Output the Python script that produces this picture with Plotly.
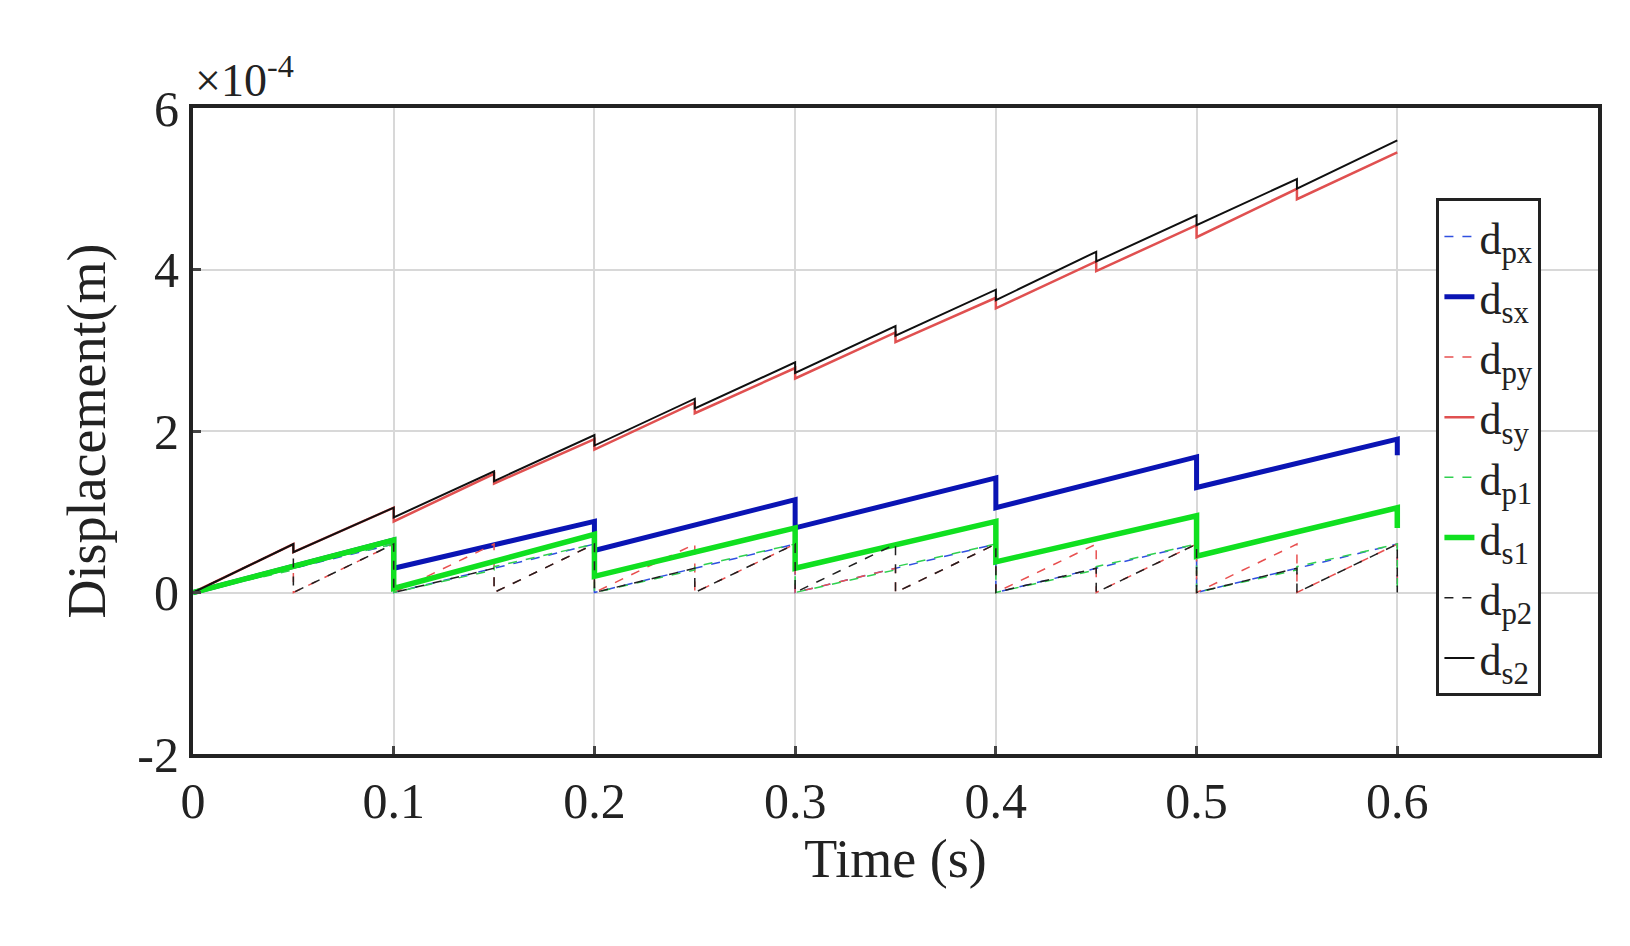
import plotly.graph_objects as go

# values in units of 1e-4 m
t_half = [0, 0.05, 0.05, 0.1, 0.1, 0.15, 0.15, 0.2, 0.2, 0.25, 0.25, 0.3, 0.3,
          0.35, 0.35, 0.4, 0.4, 0.45, 0.45, 0.5, 0.5, 0.55, 0.55, 0.6]
d_s2 = [0, 0.6, 0.5, 1.05, 0.93, 1.5, 1.38, 1.95, 1.82, 2.4, 2.28, 2.85, 2.72,
        3.3, 3.18, 3.75, 3.62, 4.22, 4.1, 4.67, 4.55, 5.12, 5.0, 5.6]
d_sy = [0, 0.6, 0.5, 1.05, 0.88, 1.47, 1.35, 1.9, 1.77, 2.35, 2.22, 2.78, 2.65,
        3.22, 3.1, 3.65, 3.52, 4.1, 3.98, 4.55, 4.4, 5.0, 4.87, 5.45]

t_full = [0, 0.1, 0.1, 0.2, 0.2, 0.3, 0.3, 0.4, 0.4, 0.5, 0.5, 0.6, 0.6]
d_sx = [0, 0.65, 0.3, 0.88, 0.52, 1.15, 0.8, 1.42, 1.05, 1.68, 1.3, 1.9, 1.7]
d_s1 = [0, 0.65, 0.05, 0.72, 0.2, 0.8, 0.3, 0.88, 0.38, 0.95, 0.45, 1.05, 0.8]

t_saw = [0, 0.05, 0.05, 0.1, 0.1, 0.15, 0.15, 0.2, 0.2, 0.25, 0.25, 0.3, 0.3,
         0.35, 0.35, 0.4, 0.4, 0.45, 0.45, 0.5, 0.5, 0.55, 0.55, 0.6, 0.6]
d_p2 = [0, 0.6, 0, 0.6, 0, 0.3, 0, 0.6, 0, 0.3, 0, 0.6, 0,
        0.6, 0, 0.6, 0, 0.3, 0, 0.6, 0, 0.3, 0, 0.6, 0]
d_py = [0, 0.3, 0, 0.6, 0, 0.6, 0, 0.6, 0, 0.6, 0, 0.6, 0,
        0.3, 0, 0.6, 0, 0.6, 0, 0.6, 0, 0.6, 0, 0.6, 0]
d_px = [0, 0.3, 0.3, 0.6, 0, 0.3, 0.3, 0.6, 0, 0.3, 0.3, 0.6, 0,
        0.3, 0.3, 0.6, 0, 0.3, 0.3, 0.6, 0, 0.3, 0.3, 0.6, 0]
d_p1 = [0, 0.28, 0.32, 0.6, 0, 0.28, 0.32, 0.6, 0, 0.28, 0.32, 0.6, 0,
        0.28, 0.32, 0.6, 0, 0.28, 0.32, 0.6, 0, 0.28, 0.32, 0.6, 0]

x_ticks = [0, 0.1, 0.2, 0.3, 0.4, 0.5, 0.6]
y_ticks = [-2, 0, 2, 4, 6]

series = [
    ("d<sub>px</sub>", t_saw, d_px, "#3050e0", 1.5, "dash"),
    ("d<sub>sx</sub>", t_full, d_sx, "#0a14b4", 5, "solid"),
    ("d<sub>py</sub>", t_saw, d_py, "#e85050", 1.5, "dash"),
    ("d<sub>sy</sub>", t_half, d_sy, "#e05050", 2.5, "solid"),
    ("d<sub>p1</sub>", t_saw, d_p1, "#30d050", 1.5, "dash"),
    ("d<sub>s1</sub>", t_full, d_s1, "#10e020", 5.5, "solid"),
    ("d<sub>p2</sub>", t_saw, d_p2, "#202020", 1.5, "dash"),
    ("d<sub>s2</sub>", t_half, d_s2, "#101010", 2, "solid"),
]

fig = go.Figure()
for name, x, y, c, w, dash in series:
    fig.add_trace(go.Scatter(x=x, y=y, name=name, mode="lines",
                             line=dict(color=c, width=w, dash=dash)))

fig.update_layout(
    width=1630, height=946, plot_bgcolor="white", paper_bgcolor="white",
    margin=dict(l=185, r=40, t=100, b=200),
    font=dict(family="Liberation Serif", color="#222", size=50),
    showlegend=True,
    legend=dict(x=0.885, y=0.86, xanchor="left", yanchor="top",
                bordercolor="#222", borderwidth=3, bgcolor="white",
                font=dict(size=44), tracegroupgap=0, itemwidth=30),
)
fig.update_xaxes(range=[0, 0.7], tickvals=x_ticks, ticktext=[str(v) for v in x_ticks],
                 showgrid=True, gridcolor="#d8d8d8", gridwidth=2,
                 showline=True, linecolor="#222", linewidth=4, mirror=True,
                 ticks="inside", ticklen=8, tickwidth=3, zeroline=False,
                 title=dict(text="Time (s)", standoff=5, font=dict(size=54)))
fig.update_yaxes(range=[-2, 6], tickvals=y_ticks, ticktext=[str(v) for v in y_ticks],
                 showgrid=True, gridcolor="#d8d8d8", gridwidth=2,
                 showline=True, linecolor="#222", linewidth=4, mirror=True,
                 ticks="inside", ticklen=8, tickwidth=3, zeroline=False,
                 title=dict(text="Displacement(m)", standoff=15, font=dict(size=54)))
fig.add_annotation(text="×10<sup>-4</sup>", xref="paper", yref="paper",
                   x=0, y=1.0, xanchor="left", yanchor="bottom", showarrow=False,
                   font=dict(size=46))
fig.write_html("out.html")
